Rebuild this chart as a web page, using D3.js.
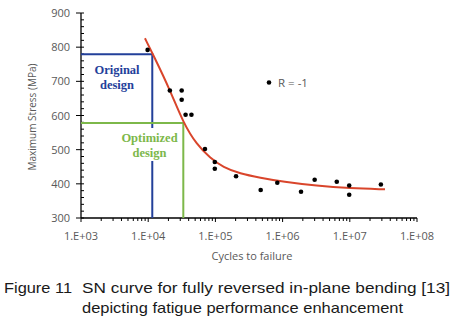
<!DOCTYPE html>
<html>
<head>
<meta charset="utf-8">
<script src="https://cdn.jsdelivr.net/npm/d3@7"></script>
<style>
  body { margin: 0; background: #fff; }
  svg { display: block; }
</style>
</head>
<body>
<div id="chart"></div>
<script>
// test points (cycles, MPa)
const cycles = [9800, 21000, 31500, 31500, 36000, 44000, 70000, 98000, 98000,
                203000, 472000, 834000, 1880000, 3000000, 6400000, 9800000, 9800000, 29000000];
const stress = [792, 673, 673, 646, 602, 602, 502, 464, 444,
                422, 382, 403, 377, 412, 406, 395, 368, 398];

// fitted SN curve
const fitCycles = [8950, 11900, 21100, 33300, 52700, 83200, 131000, 232000, 461000,
                   1020000, 3210000, 10100000, 33400000];
const fitStress = [826, 777, 675, 578, 515, 476, 448, 430, 418, 406, 394, 387, 384];

// design points
const originalDesign = { n: 11500, s: 779 };
const optimizedDesign = { n: 33300, s: 578 };

const xTicks = [1e3, 1e4, 1e5, 1e6, 1e7, 1e8];
const yTicks = [300, 400, 500, 600, 700, 800, 900];

const svg = d3.select("#chart").append("svg")
  .attr("width", 457)
  .attr("height", 321);

const x = d3.scaleLog().domain([1e3, 1e8]).range([81, 417]);
const y = d3.scaleLinear().domain([300, 900]).range([218, 13]);

const tickFont = "'Open Sans', 'Liberation Sans', sans-serif";
const grey = "#595959";

// minor ticks
const xMinor = [];
for (let e = 3; e < 8; e++) {
  for (let m = 2; m <= 9; m++) xMinor.push(m * Math.pow(10, e));
}
svg.append("g").selectAll("line").data(xMinor).join("line")
  .attr("x1", d => x(d)).attr("x2", d => x(d))
  .attr("y1", y(300)).attr("y2", y(300) + 3)
  .attr("stroke", "#000").attr("stroke-width", 1);

svg.append("g").selectAll("line").data(xTicks).join("line")
  .attr("x1", d => x(d)).attr("x2", d => x(d))
  .attr("y1", y(300)).attr("y2", y(300) + 4)
  .attr("stroke", "#000").attr("stroke-width", 1);

const yMinor = d3.range(300, 900, 20).filter(v => v % 100 !== 0);
svg.append("g").selectAll("line").data(yMinor).join("line")
  .attr("x1", x(1e3)).attr("x2", x(1e3) + 3)
  .attr("y1", d => y(d)).attr("y2", d => y(d))
  .attr("stroke", "#000").attr("stroke-width", 1);

svg.append("g").selectAll("line").data(yTicks).join("line")
  .attr("x1", x(1e3) - 5).attr("x2", x(1e3) + 3)
  .attr("y1", d => y(d)).attr("y2", d => y(d))
  .attr("stroke", "#000").attr("stroke-width", 1);

// axis lines
svg.append("line")
  .attr("x1", x(1e3)).attr("x2", x(1e3))
  .attr("y1", y(900)).attr("y2", y(300))
  .attr("stroke", "#000").attr("stroke-width", 1.3);
svg.append("line")
  .attr("x1", x(1e3)).attr("x2", x(1e8))
  .attr("y1", y(300)).attr("y2", y(300))
  .attr("stroke", "#000").attr("stroke-width", 1.3);

// tick labels
svg.append("g").selectAll("text").data(yTicks).join("text")
  .attr("x", 70).attr("y", d => y(d) + 4)
  .attr("text-anchor", "end")
  .attr("font-family", tickFont).attr("font-size", 11).attr("fill", grey)
  .text(d => d);

svg.append("g").selectAll("text").data(xTicks).join("text")
  .attr("x", d => x(d)).attr("y", 239.5)
  .attr("text-anchor", "middle")
  .attr("font-family", tickFont).attr("font-size", 11).attr("fill", grey)
  .text(d => "1.E+0" + Math.round(Math.log10(d)));

// axis titles
svg.append("text")
  .attr("x", 252).attr("y", 260)
  .attr("text-anchor", "middle")
  .attr("font-family", tickFont).attr("font-size", 11).attr("fill", grey)
  .text("Cycles to failure");

svg.append("text")
  .attr("transform", "translate(36,117) rotate(-90)")
  .attr("text-anchor", "middle")
  .attr("font-family", tickFont).attr("font-size", 10).attr("fill", grey)
  .text("Maximum Stress (MPa)");

// design lines
const blue = "#23409a";
const green = "#7db84a";

svg.append("path")
  .attr("d", d3.line()([[x(1e3), y(originalDesign.s)], [x(originalDesign.n), y(originalDesign.s)], [x(originalDesign.n), y(300)]]))
  .attr("fill", "none").attr("stroke", blue).attr("stroke-width", 2);

svg.append("path")
  .attr("d", d3.line()([[x(1e3), y(optimizedDesign.s)], [x(optimizedDesign.n), y(optimizedDesign.s)], [x(optimizedDesign.n), y(300)]]))
  .attr("fill", "none").attr("stroke", green).attr("stroke-width", 2);

// label boxes
svg.append("rect")
  .attr("x", 119).attr("y", 128).attr("width", 61).attr("height", 33)
  .attr("fill", "#fff");

const serif = "'Liberation Serif', 'DejaVu Serif', serif";
svg.append("text")
  .attr("x", 117).attr("y", 74)
  .attr("text-anchor", "middle")
  .attr("font-family", serif).attr("font-weight", "bold").attr("font-size", 12.5).attr("fill", blue)
  .text("Original");
svg.append("text")
  .attr("x", 117).attr("y", 89)
  .attr("text-anchor", "middle")
  .attr("font-family", serif).attr("font-weight", "bold").attr("font-size", 12.5).attr("fill", blue)
  .text("design");

svg.append("text")
  .attr("x", 149.5).attr("y", 142)
  .attr("text-anchor", "middle")
  .attr("font-family", serif).attr("font-weight", "bold").attr("font-size", 12.5).attr("fill", green)
  .text("Optimized");
svg.append("text")
  .attr("x", 149.5).attr("y", 157)
  .attr("text-anchor", "middle")
  .attr("font-family", serif).attr("font-weight", "bold").attr("font-size", 12.5).attr("fill", green)
  .text("design");

// fitted curve
const fit = fitCycles.map((c, i) => [c, fitStress[i]]);
svg.append("path")
  .datum(fit)
  .attr("fill", "none")
  .attr("stroke", "#d9452b")
  .attr("stroke-width", 2)
  .attr("d", d3.line().x(d => x(d[0])).y(d => y(d[1])).curve(d3.curveBasis));

// data points
const pts = cycles.map((c, i) => [c, stress[i]]);
svg.append("g").selectAll("circle").data(pts).join("circle")
  .attr("cx", d => x(d[0])).attr("cy", d => y(d[1]))
  .attr("r", 2.3).attr("fill", "#000");

// legend
svg.append("circle").attr("cx", 269).attr("cy", 82.5).attr("r", 2.3).attr("fill", "#000");
svg.append("text")
  .attr("x", 278).attr("y", 87)
  .attr("font-family", tickFont).attr("font-size", 11.5).attr("fill", grey)
  .text("R = -1");

// caption
const capFont = "'Liberation Sans', Arial, sans-serif";
svg.append("text")
  .attr("x", 4).attr("y", 293)
  .attr("font-family", capFont).attr("font-size", 14.5).attr("fill", "#1a1a1a")
  .attr("textLength", 68).attr("lengthAdjust", "spacingAndGlyphs")
  .text("Figure 11");
svg.append("text")
  .attr("x", 82).attr("y", 293)
  .attr("font-family", capFont).attr("font-size", 14.5).attr("fill", "#1a1a1a")
  .attr("textLength", 368).attr("lengthAdjust", "spacingAndGlyphs")
  .text("SN curve for fully reversed in-plane bending [13]");
svg.append("text")
  .attr("x", 82).attr("y", 313)
  .attr("font-family", capFont).attr("font-size", 14.5).attr("fill", "#1a1a1a")
  .attr("textLength", 321).attr("lengthAdjust", "spacingAndGlyphs")
  .text("depicting fatigue performance enhancement");
</script>
</body>
</html>
